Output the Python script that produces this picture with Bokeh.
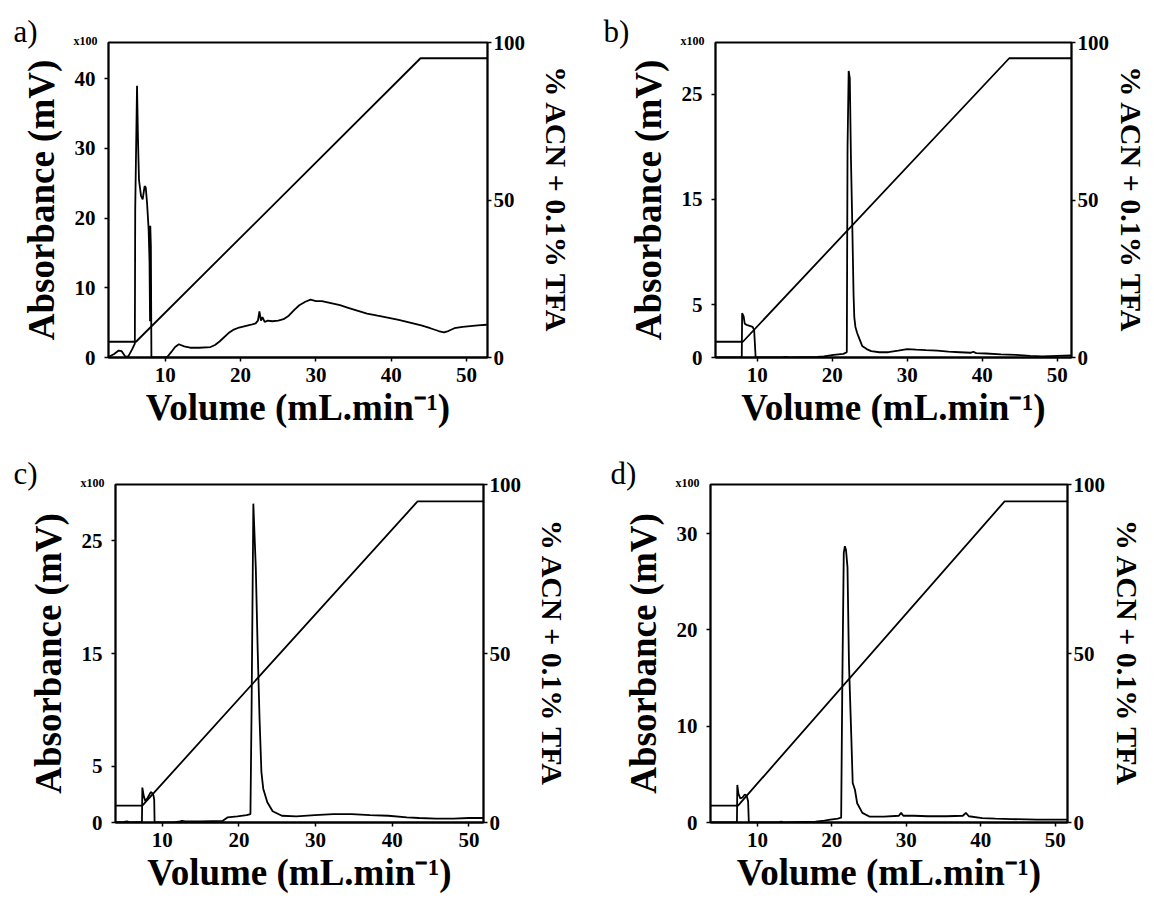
from bokeh.plotting import figure
from bokeh.models import Range1d, LinearAxis, FixedTicker, Title
from bokeh.layouts import column, row
from bokeh.embed import file_html
from bokeh.resources import INLINE

SERIF = "Liberation Serif"

# ---------------- data ----------------
# panel a
vol_a = [2.5, 3.2, 3.8, 4.2, 4.7, 5.1, 5.6, 5.95, 6.0, 6.24, 6.37, 6.5, 6.77, 6.99, 7.25, 7.4,
         7.57, 7.78, 7.9, 7.97, 8.0, 8.08, 8.15, 10.2, 10.8, 11.3, 11.8, 12.5, 13.3, 14.5, 16.0,
         16.6, 17.2, 17.7, 18.4, 19.1, 19.8, 20.6, 21.4, 22.0, 22.3, 22.5, 22.7, 22.9, 23.2, 23.6,
         24.2, 25.0, 25.7, 26.4, 27.1, 27.8, 28.6, 29.3, 30.0, 30.8, 32.0, 33.2, 34.4, 35.6, 36.8,
         38.2, 39.7, 41.0, 42.5, 44.0, 45.2, 46.3, 47.0, 47.6, 48.4, 49.5, 50.5, 51.5, 52.7]
abs_a = [0.1, 0.5, 1.0, 0.9, 0.1, 0.2, 1.2, 2.0, 21.3, 39.0, 31.2, 25.5, 23.2, 22.7, 24.6, 24.4,
         22.2, 18.4, 13.7, 5.2, 18.9, 16.0, 0.0, 0.0, 0.8, 1.5, 1.9, 1.6, 1.4, 1.4, 1.5,
         1.8, 2.3, 2.8, 3.5, 4.0, 4.3, 4.5, 4.7, 4.9, 5.3, 6.6, 5.3, 5.8, 5.1, 5.3,
         5.2, 5.3, 5.5, 6.0, 6.8, 7.5, 8.0, 8.3, 8.1, 8.1, 7.8, 7.5, 7.1, 6.7, 6.3,
         6.0, 5.7, 5.4, 5.0, 4.6, 4.2, 3.8, 3.6, 3.8, 4.2, 4.4, 4.5, 4.6, 4.7]
grad_vol_a = [2.45, 6.1, 43.9, 52.8]
grad_pct_a = [5, 5, 95, 95]

# panel b
vol_b = [4.45, 7.95, 8.0, 8.2, 8.35, 8.6, 9.0, 9.4, 9.6, 9.8, 13.3, 13.8, 14.3, 18.0, 18.9, 20.2,
         21.5, 21.95, 22.05, 22.2, 22.35, 22.5, 22.7, 22.85, 22.95, 23.1, 23.3, 23.5, 24.0, 24.6,
         25.2, 26.3, 27.5, 28.8, 30.0, 31.2, 32.5, 34.0, 35.5, 37.0, 38.5, 38.8, 39.2, 40.5, 42.5,
         44.5, 46.4, 48.0, 50.0, 51.9]
abs_b = [0, 0, 4.2, 3.9, 3.2, 3.1, 3.0, 2.9, 2.6, 0, 0, 0.07, 0, 0.05, 0.1, 0.25,
         0.35, 0.5, 20.0, 27.2, 26.5, 19.0, 11.9, 6.0, 3.8, 2.9, 2.4, 2.0, 1.1, 0.8,
         0.6, 0.5, 0.5, 0.65, 0.8, 0.75, 0.7, 0.65, 0.55, 0.5, 0.45, 0.55, 0.42, 0.38, 0.3,
         0.25, 0.15, 0.1, 0.15, 0.2]
grad_vol_b = [4.45, 8.1, 43.6, 51.9]
grad_pct_b = [5, 5, 95, 95]

# panel c
vol_c = [3.9, 5.0, 5.4, 5.8, 7.35, 7.4, 7.6, 7.8, 8.1, 8.5, 8.7, 8.85, 8.95, 9.0, 11.5, 12.3,
         12.6, 13.0, 15.0, 17.9, 18.5, 19.8, 21.0, 21.5, 21.65, 21.88, 22.2, 22.45, 22.69, 22.93,
         23.17, 23.7, 24.4, 25.6, 27.5, 29.9, 32.3, 34.7, 37.1, 39.5, 41.9, 43.5, 45.7, 48.0,
         50.0, 51.9]
abs_c = [0, 0.05, 0.1, 0.02, 0.05, 3.1, 2.3, 1.9, 2.2, 2.7, 2.6, 2.4, 2.0, 0, 0, 0.1,
         0.15, 0.1, 0.1, 0.15, 0.45, 0.55, 0.65, 0.75, 10.0, 28.3, 22.6, 15.2, 9.2, 4.5,
         3.0, 1.8, 1.0, 0.6, 0.55, 0.65, 0.75, 0.75, 0.65, 0.6, 0.45, 0.4, 0.35, 0.35,
         0.4, 0.4]
grad_vol_c = [3.9, 7.4, 43.3, 51.9]
grad_pct_c = [5, 5, 95, 95]

# panel d
vol_d = [3.7, 7.25, 7.3, 7.45, 7.7, 8.0, 8.3, 8.55, 8.75, 8.85, 12.8, 13.2, 13.6, 17.8, 19.0,
         19.8, 20.8, 21.25, 21.4, 21.6, 21.75, 21.9, 22.1, 22.3, 22.6, 22.8, 23.1, 23.4, 24.1,
         25.1, 27.0, 29.0, 29.3, 29.6, 31.0, 32.9, 35.4, 37.6, 38.0, 38.4, 40.2, 42.0, 44.1,
         47.6, 49.5, 51.65]
abs_d = [0, 0, 3.9, 3.0, 2.5, 2.6, 2.9, 2.8, 2.2, 0, 0, 0.1, 0, 0.1, 0.2,
         0.3, 0.4, 0.5, 14.0, 28.0, 28.7, 28.3, 26.5, 16.5, 9.2, 4.1, 3.4, 2.0, 1.0,
         0.6, 0.6, 0.7, 1.0, 0.7, 0.7, 0.65, 0.65, 0.7, 1.0, 0.65, 0.45, 0.4, 0.35,
         0.3, 0.3, 0.3]
grad_vol_d = [3.7, 7.4, 43.2, 51.65]
grad_pct_d = [5, 5, 95, 95]

x_ticks = [10, 20, 30, 40, 50]
pct_ticks = [0, 50, 100]
y_ticks_a = [0, 10, 20, 30, 40]
y_ticks_b = [0, 5, 15, 25]
y_ticks_c = [0, 5, 15, 25]
y_ticks_d = [0, 10, 20, 30]

x_label = "Volume (mL.min\u207b\u00b9)"
y_label = "Absorbance (mV)"
r_label = "% ACN + 0.1% TFA"
scale_label = "x100"


def style_axis(ax, label_size, standoff):
    ax.axis_line_color = "black"
    ax.axis_line_width = 1.8
    ax.major_tick_line_color = "black"
    ax.major_tick_line_width = 1.5
    ax.major_tick_out = 4
    ax.major_tick_in = 0
    ax.minor_tick_line_color = None
    ax.major_label_text_font = SERIF
    ax.major_label_text_font_style = "bold"
    ax.major_label_text_font_size = "21px"
    ax.major_label_text_color = "black"
    ax.axis_label_text_font = SERIF
    ax.axis_label_text_font_style = "bold"
    ax.axis_label_text_font_size = label_size
    ax.axis_label_text_color = "black"
    ax.axis_label_standoff = standoff


def panel(letter, vol, ab, gv, gp, xr, ymax, yt, W, H, bl, br, bt, bb, lx, rstand):
    p = figure(width=W, height=H, x_range=Range1d(*xr), y_range=Range1d(0, ymax),
               output_backend="svg", toolbar_location=None, title=None,
               min_border_left=bl, min_border_right=br, min_border_top=bt, min_border_bottom=bb)
    p.background_fill_color = "white"
    p.border_fill_color = "white"
    p.outline_line_color = "black"
    p.outline_line_width = 1.8
    p.xgrid.visible = False
    p.ygrid.visible = False
    p.extra_y_ranges = {"pct": Range1d(0, 100)}

    p.xaxis.ticker = FixedTicker(ticks=x_ticks)
    p.yaxis.ticker = FixedTicker(ticks=yt)
    p.xaxis.axis_label = x_label
    p.yaxis.axis_label = y_label
    style_axis(p.xaxis[0], "37px", 2)
    style_axis(p.yaxis[0], "37px", 10)
    p.xaxis.major_label_standoff = 6
    p.yaxis.major_label_standoff = 9

    rax = LinearAxis(y_range_name="pct", ticker=FixedTicker(ticks=pct_ticks), axis_label=r_label)
    style_axis(rax, "30px", rstand)
    rax.major_label_standoff = 2
    p.add_layout(rax, "right")

    p.line(gv, gp, y_range_name="pct", line_color="black", line_width=1.8)
    p.line(vol, ab, line_color="black", line_width=1.8)

    # "x100" scale note next to the top of the left axis (closest to the frame)
    p.add_layout(Title(text=scale_label, align="left", offset=-35, vertical_align="top",
                       standoff=-15, text_font=SERIF, text_font_style="bold",
                       text_font_size="12px", text_color="black"), "above")
    # panel letter
    p.add_layout(Title(text=letter, align="left", offset=lx, vertical_align="top",
                       standoff=-18, text_font=SERIF, text_font_style="normal",
                       text_font_size="31px", text_color="black"), "above")
    return p


pa = panel("a)", vol_a, abs_a, grad_vol_a, grad_pct_a, (2.45, 52.8), 45.2, y_ticks_a,
           585, 449, 108, 98, 42, 92, -95, 12)
pb = panel("b)", vol_b, abs_b, grad_vol_b, grad_pct_b, (4.45, 51.9), 29.9, y_ticks_b,
           567, 449, 130, 81, 42, 92, -112, 3)
pc = panel("c)", vol_c, abs_c, grad_vol_c, grad_pct_c, (3.9, 51.9), 30.0, y_ticks_c,
           585, 447, 115, 102, 35, 74, -102, 12)
pd_ = panel("d)", vol_d, abs_d, grad_vol_d, grad_pct_d, (3.7, 51.65), 35.1, y_ticks_d,
            567, 447, 125, 85, 35, 74, -100, 3)

layout = column(row(pa, pb, spacing=0), row(pc, pd_, spacing=0), spacing=0)

with open("out.html", "w") as f:
    f.write(file_html(layout, INLINE))
